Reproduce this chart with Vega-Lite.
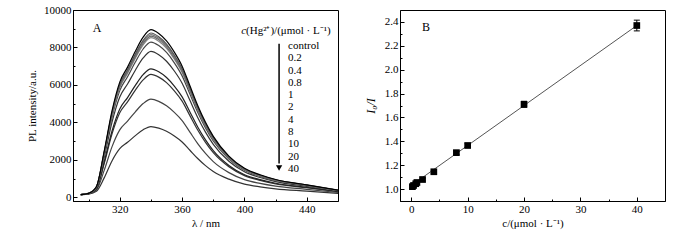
{
  "$schema": "https://vega.github.io/schema/vega-lite/v6.json",
  "padding": {"left": 26, "top": 3, "right": 33, "bottom": 5},
  "bounds": "flush",
  "spacing": 62,
  "background": "white",
  "config": {
    "font": "Liberation Serif",
    "view": {"stroke": "black", "strokeWidth": 1},
    "axis": {
      "domainColor": "black", "tickColor": "black", "labelColor": "black", "titleColor": "black",
      "grid": false, "labelFont": "Liberation Serif", "titleFont": "Liberation Serif",
      "labelFontSize": 11, "titleFontSize": 11, "titleFontWeight": "normal",
      "tickSize": -4, "labelPadding": 6, "labelFlush": false, "labelOverlap": false
    },
    "text": {"font": "Liberation Serif", "color": "black"}
  },
  "hconcat": [
    {
      "width": 265, "height": 191,
      "resolve": {"axis": {"x": "independent", "y": "independent"}},
      "data": {"values": [
        {"w":295,"c0":140,"c02":140,"c04":140,"c08":140,"c1":140,"c2":140,"c4":140,"c8":140,"c10":140,"c20":140,"c40":140},
        {"w":300,"c0":210,"c02":209,"c04":208,"c08":207,"c1":207,"c2":205,"c4":201,"c8":194,"c10":191,"c20":181,"c40":170},
        {"w":305,"c0":560,"c02":552,"c04":548,"c08":544,"c1":540,"c2":529,"c4":505,"c8":462,"c10":448,"c20":386,"c40":317},
        {"w":310,"c0":2450,"c02":2401,"c04":2379,"c08":2357,"c1":2332,"c2":2269,"c4":2132,"c8":1877,"c10":1796,"c20":1433,"c40":1034},
        {"w":315,"c0":4600,"c02":4508,"c04":4467,"c08":4425,"c1":4379,"c2":4260,"c4":4002,"c8":3524,"c10":3372,"c20":2691,"c40":1941},
        {"w":320,"c0":6150,"c02":6027,"c04":5972,"c08":5916,"c1":5855,"c2":5695,"c4":5351,"c8":4711,"c10":4508,"c20":3598,"c40":2595},
        {"w":325,"c0":6950,"c02":6811,"c04":6748,"c08":6686,"c1":6616,"c2":6436,"c4":6047,"c8":5324,"c10":5094,"c20":4066,"c40":2933},
        {"w":330,"c0":7800,"c02":7644,"c04":7574,"c08":7504,"c1":7426,"c2":7223,"c4":6786,"c8":5975,"c10":5717,"c20":4563,"c40":3292},
        {"w":335,"c0":8550,"c02":8379,"c04":8302,"c08":8225,"c1":8140,"c2":7917,"c4":7439,"c8":6549,"c10":6267,"c20":5002,"c40":3608},
        {"w":340,"c0":8950,"c02":8771,"c04":8690,"c08":8610,"c1":8520,"c2":8288,"c4":7787,"c8":6856,"c10":6560,"c20":5236,"c40":3777},
        {"w":345,"c0":8750,"c02":8575,"c04":8496,"c08":8418,"c1":8330,"c2":8103,"c4":7613,"c8":6703,"c10":6414,"c20":5119,"c40":3693},
        {"w":350,"c0":8350,"c02":8183,"c04":8108,"c08":8033,"c1":7949,"c2":7732,"c4":7265,"c8":6396,"c10":6121,"c20":4885,"c40":3524},
        {"w":355,"c0":7750,"c02":7595,"c04":7525,"c08":7456,"c1":7378,"c2":7177,"c4":6743,"c8":5937,"c10":5681,"c20":4534,"c40":3271},
        {"w":360,"c0":7000,"c02":6860,"c04":6797,"c08":6734,"c1":6664,"c2":6482,"c4":6090,"c8":5362,"c10":5131,"c20":4095,"c40":2954},
        {"w":365,"c0":5950,"c02":5831,"c04":5777,"c08":5724,"c1":5664,"c2":5510,"c4":5177,"c8":4558,"c10":4361,"c20":3481,"c40":2511},
        {"w":370,"c0":4900,"c02":4802,"c04":4758,"c08":4714,"c1":4665,"c2":4537,"c4":4263,"c8":3753,"c10":3592,"c20":2867,"c40":2068},
        {"w":375,"c0":4000,"c02":3920,"c04":3884,"c08":3848,"c1":3808,"c2":3704,"c4":3480,"c8":3064,"c10":2932,"c20":2340,"c40":1688},
        {"w":380,"c0":3250,"c02":3185,"c04":3156,"c08":3127,"c1":3094,"c2":3010,"c4":2828,"c8":2490,"c10":2382,"c20":1901,"c40":1372},
        {"w":390,"c0":2200,"c02":2157,"c04":2138,"c08":2119,"c1":2097,"c2":2042,"c4":1923,"c8":1701,"c10":1630,"c20":1315,"c40":966},
        {"w":400,"c0":1550,"c02":1521,"c04":1507,"c08":1494,"c1":1479,"c2":1441,"c4":1359,"c8":1205,"c10":1157,"c20":939,"c40":699},
        {"w":410,"c0":1200,"c02":1178,"c04":1168,"c08":1158,"c1":1146,"c2":1117,"c4":1055,"c8":939,"c10":902,"c20":737,"c40":555},
        {"w":420,"c0":950,"c02":933,"c04":925,"c08":917,"c1":908,"c2":886,"c4":838,"c8":748,"c10":719,"c20":591,"c40":450},
        {"w":440,"c0":660,"c02":649,"c04":643,"c08":638,"c1":632,"c2":617,"c4":585,"c8":526,"c10":507,"c20":422,"c40":328},
        {"w":460,"c0":380,"c02":374,"c04":371,"c08":368,"c1":365,"c2":357,"c4":340,"c8":309,"c10":299,"c20":254,"c40":204}
      ]},
      "layer": [
        {
          "transform": [{"fold": ["c40","c20","c10","c8","c4","c2","c1","c08","c04","c02","c0"], "as": ["conc", "v"]}],
          "mark": {"type": "line", "interpolate": "monotone", "strokeWidth": 1.2, "clip": true},
          "encoding": {
            "x": {"field": "w", "type": "quantitative",
              "scale": {"domain": [290, 460], "nice": false, "zero": false},
              "axis": {"orient": "bottom", "values": [320,360,400,440], "title": "λ / nm", "titlePadding": 3}},
            "y": {"field": "v", "type": "quantitative",
              "scale": {"domain": [-200, 10000], "nice": false, "zero": false},
              "axis": {"orient": "left", "values": [0,2000,4000,6000,8000,10000], "format": "d", "title": "PL intensity/a.u.", "titlePadding": 6}},
            "color": {"field": "conc", "type": "nominal",
              "scale": {"domain": ["c0","c02","c04","c08","c1","c2","c4","c8","c10","c20","c40"],
                        "range": ["#000000","#555555","#777777","#666666","#888888","#444444","#333333","#222222","#333333","#444444","#333333"]},
              "legend": null}
          }
        },
        {
          "data": {"values": [{"t":"A","x":305.4,"y":9039}]},
          "mark": {"type": "text", "align": "center", "baseline": "middle", "fontSize": 12},
          "encoding": {
            "x": {"field": "x", "type": "quantitative", "axis": {"orient": "bottom", "values": [300,340,380,420], "labels": false, "domain": false, "title": null, "tickSize": -2}},
            "y": {"field": "y", "type": "quantitative", "axis": {"orient": "left", "values": [1000,3000,5000,7000,9000], "labels": false, "domain": false, "title": null, "tickSize": -2}},
            "text": {"field": "t"}}
        },
        {
          "data": {"values": [
            {"t":"control","x":428,"y":8080},{"t":"0.2","x":428,"y":7423},{"t":"0.4","x":428,"y":6766},
            {"t":"0.8","x":428,"y":6109},{"t":"1","x":428,"y":5452},{"t":"2","x":428,"y":4795},
            {"t":"4","x":428,"y":4138},{"t":"8","x":428,"y":3481},{"t":"10","x":428,"y":2824},
            {"t":"20","x":428,"y":2167},{"t":"40","x":428,"y":1510}
          ]},
          "mark": {"type": "text", "align": "left", "baseline": "middle", "fontSize": 11},
          "encoding": {"x": {"field": "x", "type": "quantitative", "axis": null}, "y": {"field": "y", "type": "quantitative", "axis": null}, "text": {"field": "t"}}
        },
        {
          "data": {"values": [{"t":"c","x":401,"y":8878}]},
          "mark": {"type": "text", "align": "right", "baseline": "middle", "fontSize": 11, "fontStyle": "italic"},
          "encoding": {"x": {"field": "x", "type": "quantitative", "axis": null}, "y": {"field": "y", "type": "quantitative", "axis": null}, "text": {"field": "t"}}
        },
        {
          "data": {"values": [{"t":"(Hg²⁺)/(μmol · L⁻¹)","x":401,"y":8878}]},
          "mark": {"type": "text", "align": "left", "baseline": "middle", "fontSize": 11},
          "encoding": {"x": {"field": "x", "type": "quantitative", "axis": null}, "y": {"field": "y", "type": "quantitative", "axis": null}, "text": {"field": "t"}}
        },
        {
          "data": {"values": [{"x":422.2,"y":8200,"y2":1800}]},
          "mark": {"type": "rule", "strokeWidth": 1.5, "color": "black"},
          "encoding": {"x": {"field": "x", "type": "quantitative", "axis": null}, "y": {"field": "y", "type": "quantitative", "axis": null}, "y2": {"field": "y2"}}
        },
        {
          "data": {"values": [{"x":422.2,"y":1560}]},
          "mark": {"type": "point", "shape": "triangle-down", "filled": true, "size": 40, "color": "black", "opacity": 1},
          "encoding": {"x": {"field": "x", "type": "quantitative", "axis": null}, "y": {"field": "y", "type": "quantitative", "axis": null}}
        }
      ]
    },
    {
      "width": 265, "height": 191,
      "resolve": {"axis": {"x": "independent", "y": "independent"}},
      "layer": [
        {
          "data": {"values": [{"c":0,"r":1.03},{"c":40,"r":2.37}]},
          "mark": {"type": "line", "color": "#555555", "strokeWidth": 1},
          "encoding": {
            "x": {"field": "c", "type": "quantitative",
              "scale": {"domain": [-2, 45], "nice": false, "zero": false},
              "axis": {"orient": "bottom", "values": [0,10,20,30,40], "title": "c/(μmol · L⁻¹)", "titlePadding": 3}},
            "y": {"field": "r", "type": "quantitative",
              "scale": {"domain": [0.9, 2.5], "nice": false, "zero": false},
              "axis": {"orient": "left", "values": [1.0,1.2,1.4,1.6,1.8,2.0,2.2,2.4], "format": ".1f", "title": "I₀/I", "titleFontStyle": "italic", "titleFontSize": 12, "titlePadding": 7}}
          }
        },
        {
          "data": {"values": [{"t":"B","x":2.6,"y":2.358}]},
          "mark": {"type": "text", "align": "center", "baseline": "middle", "fontSize": 12},
          "encoding": {
            "x": {"field": "x", "type": "quantitative", "axis": {"orient": "bottom", "values": [5,15,25,35], "labels": false, "domain": false, "title": null, "tickSize": -2}},
            "y": {"field": "y", "type": "quantitative", "axis": {"orient": "left", "values": [1.1,1.3,1.5,1.7,1.9,2.1,2.3], "labels": false, "domain": false, "title": null, "tickSize": -2}},
            "text": {"field": "t"}}
        },
        {
          "data": {"values": [
            {"c":0.2,"r":1.02,"lo":1.008,"hi":1.032},
            {"c":0.4,"r":1.03,"lo":1.018,"hi":1.042},
            {"c":0.8,"r":1.045,"lo":1.033,"hi":1.057},
            {"c":1,"r":1.055,"lo":1.043,"hi":1.067},
            {"c":2,"r":1.08,"lo":1.068,"hi":1.092},
            {"c":4,"r":1.145,"lo":1.133,"hi":1.157},
            {"c":8,"r":1.305,"lo":1.29,"hi":1.32},
            {"c":10,"r":1.365,"lo":1.35,"hi":1.38},
            {"c":20,"r":1.71,"lo":1.685,"hi":1.735},
            {"c":40,"r":2.37,"lo":2.325,"hi":2.415}
          ]},
          "layer": [
            {"mark": {"type": "rule", "color": "black", "strokeWidth": 1},
             "encoding": {"x": {"field": "c", "type": "quantitative", "axis": null}, "y": {"field": "lo", "type": "quantitative", "axis": null}, "y2": {"field": "hi"}}},
            {"mark": {"type": "tick", "orient": "horizontal", "size": 6, "thickness": 1, "color": "black", "opacity": 1},
             "encoding": {"x": {"field": "c", "type": "quantitative", "axis": null}, "y": {"field": "lo", "type": "quantitative", "axis": null}}},
            {"mark": {"type": "tick", "orient": "horizontal", "size": 6, "thickness": 1, "color": "black", "opacity": 1},
             "encoding": {"x": {"field": "c", "type": "quantitative", "axis": null}, "y": {"field": "hi", "type": "quantitative", "axis": null}}},
            {"mark": {"type": "square", "filled": true, "size": 45, "color": "black", "opacity": 1},
             "encoding": {"x": {"field": "c", "type": "quantitative", "axis": null}, "y": {"field": "r", "type": "quantitative", "axis": null}}}
          ]
        }
      ]
    }
  ]
}
